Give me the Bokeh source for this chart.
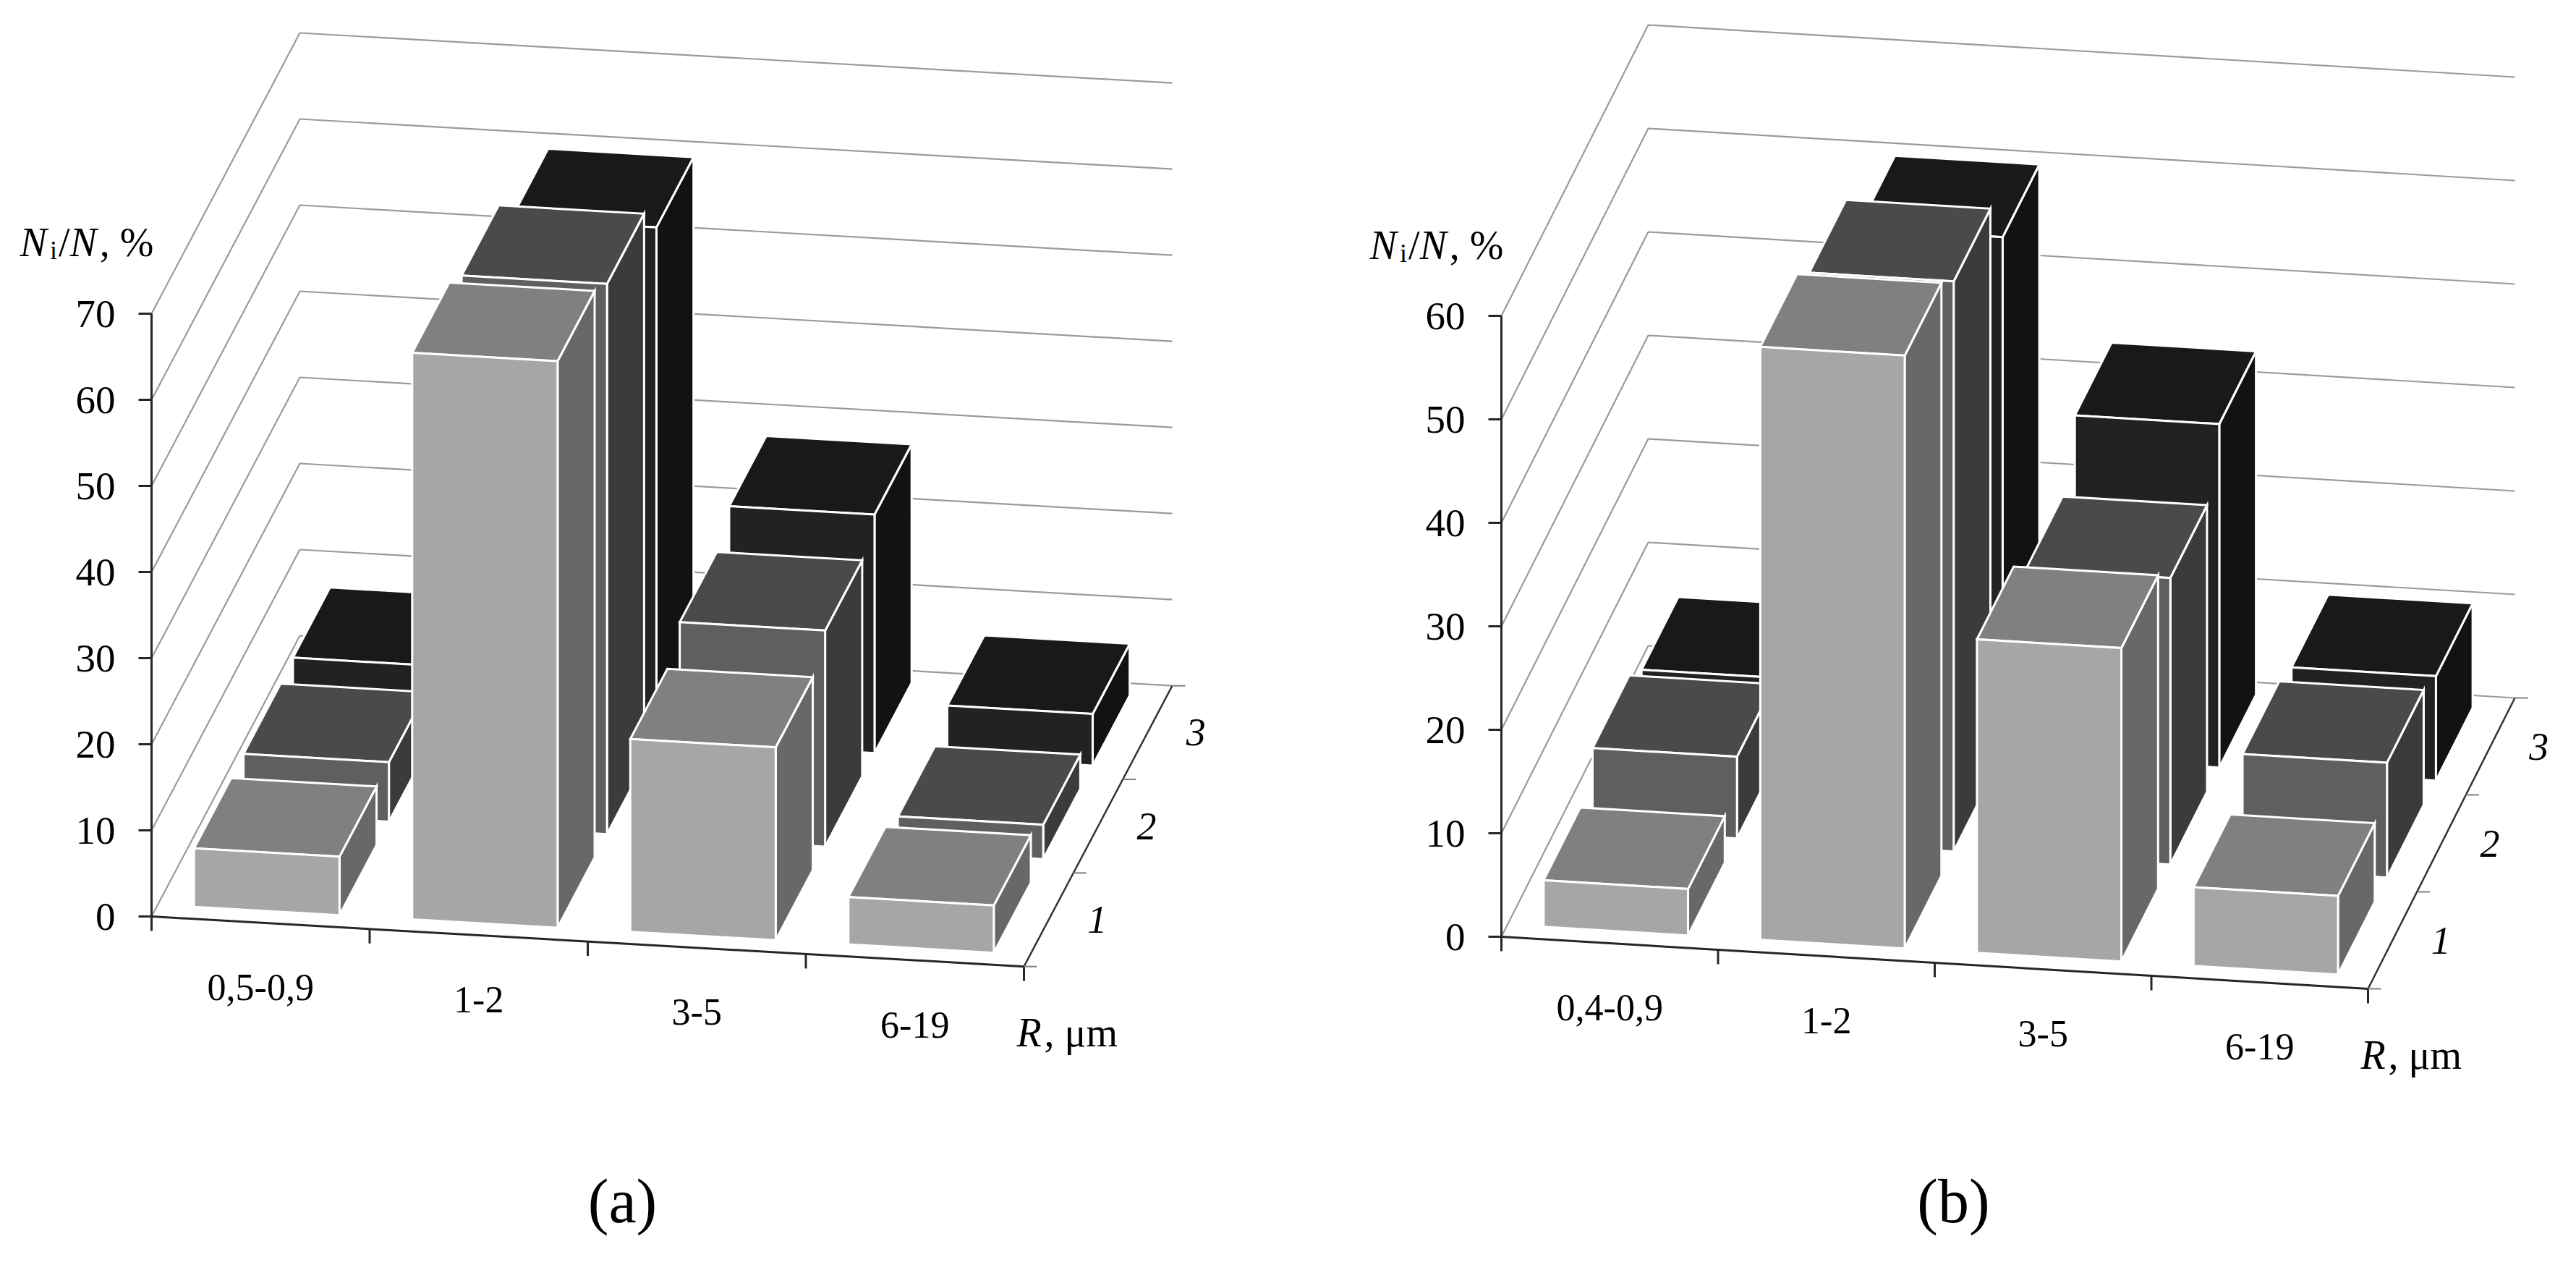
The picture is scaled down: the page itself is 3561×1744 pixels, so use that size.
from bokeh.plotting import figure
from bokeh.models import ColumnDataSource, Range1d, FixedTicker
from bokeh.layouts import row
from bokeh.embed import file_html
from bokeh.resources import INLINE
from bokeh.core.properties import value

# ---------------- data ----------------
categories_a = ["0,5-0,9", "1-2", "3-5", "6-19"]
categories_b = ["0,4-0,9", "1-2", "3-5", "6-19"]
series_names = ["1", "2", "3"]

a_series1 = [6.8, 65.8, 22.4, 5.5]
a_series2 = [6.9, 63.9, 25.1, 4.0]
a_series3 = [7.2, 59.6, 27.7, 6.0]

b_series1 = [4.5, 57.3, 30.3, 7.6]
b_series2 = [7.9, 55.1, 27.7, 11.1]
b_series3 = [6.1, 50.0, 33.2, 10.1]

a_ticks = [0, 10, 20, 30, 40, 50, 60, 70]
b_ticks = [0, 10, 20, 30, 40, 50, 60]

y_title_parts = ["N", "i", "/", "N", ", %"]
x_title_parts = ["R", ", \u03bcm"]
captions = ["(a)", "(b)"]

# ---------------- styles ----------------
FACE_COLORS = [  # (front, right side, top) per series
    ("#a6a6a6", "#686868", "#808080"),
    ("#5f5f5f", "#3b3b3b", "#4a4a4a"),
    ("#222222", "#121212", "#191919"),
]
SERIF = "Liberation Serif"
PAGE_H = 1728
TOP = 8

panels = [
    dict(fig_left=8, fig_width=1772, axis_x=217, base_y=1274, scale=11.9,
         cat_dx=301.5, cat_dy=17.3, dep_dx=205, dep_dy=-388,
         cats=categories_a, series=[a_series1, a_series2, a_series3],
         ticks=a_ticks, caption=captions[0], cap_x=868, cap_y=1667, title_base=342),
    dict(fig_left=1780, fig_width=1773, axis_x=2083, base_y=1302, scale=14.3,
         cat_dx=299.5, cat_dy=18.0, dep_dx=203, dep_dy=-402,
         cats=categories_b, series=[b_series1, b_series2, b_series3],
         ticks=b_ticks, caption=captions[1], cap_x=2708, cap_y=1667, title_base=346),
]


def make_panel(cfg):
    s = cfg["scale"]
    ncat = len(cfg["cats"])
    nser = len(cfg["series"])

    def P(c, d, v):
        x = cfg["axis_x"] + c * cfg["cat_dx"] + d / nser * cfg["dep_dx"]
        y = v - (c * cfg["cat_dy"] + d / nser * cfg["dep_dy"]) / s
        return x, y

    def page_y(py):
        return (cfg["base_y"] - py) / s

    p = figure(width=cfg["fig_width"], height=PAGE_H,
               x_range=Range1d(cfg["fig_left"], cfg["fig_left"] + cfg["fig_width"]),
               y_range=Range1d(page_y(TOP + PAGE_H), page_y(TOP)),
               x_axis_location=None, y_axis_location="left",
               output_backend="svg", toolbar_location=None,
               min_border_left=0, min_border_right=0,
               min_border_top=0, min_border_bottom=0)
    p.outline_line_color = None
    p.xgrid.visible = False
    p.ygrid.visible = False
    p.background_fill_color = "white"
    p.border_fill_color = "white"

    ticks = cfg["ticks"]
    ax = p.yaxis[0]
    ax.fixed_location = cfg["axis_x"]
    ax.ticker = FixedTicker(ticks=ticks)
    ax.bounds = (0, ticks[-1])
    ax.axis_line_color = "#262626"
    ax.axis_line_width = 3
    ax.major_tick_line_color = "#262626"
    ax.major_tick_line_width = 3
    ax.major_tick_out = 18
    ax.major_tick_in = 0
    ax.minor_tick_out = 0
    ax.minor_tick_in = 0
    ax.major_label_standoff = 32
    ax.major_label_text_font = SERIF
    ax.major_label_text_font_size = "55px"
    ax.major_label_text_color = "black"

    # walls: left side wall and back wall grid lines
    wx, wy = [], []
    for t in ticks:
        pts = [P(0, 0, t), P(0, nser, t), P(ncat, nser, t)]
        wx.append([q[0] for q in pts])
        wy.append([q[1] for q in pts])
    p.multi_line(wx, wy, line_color="#9a9a9a", line_width=2.2)

    # front (category) axis
    f0, f1 = P(0, 0, 0), P(ncat, 0, 0)
    p.line([f0[0], f1[0]], [f0[1], f1[1]], line_color="#262626", line_width=3)
    tx, ty = [], []
    for c in range(ncat + 1):
        q = P(c, 0, 0)
        tx.append([q[0], q[0]])
        ty.append([q[1], q[1] - 20 / s])
    p.multi_line(tx, ty, line_color="#262626", line_width=3)

    # depth (series) axis
    d0, d1 = P(ncat, 0, 0), P(ncat, nser, 0)
    p.line([d0[0], d1[0]], [d0[1], d1[1]], line_color="#333333", line_width=2.5)
    dx, dy = [], []
    for k in range(nser + 1):
        q = P(ncat, k, 0)
        dx.append([q[0], q[0] + 18])
        dy.append([q[1], q[1]])
    p.multi_line(dx, dy, line_color="#808080", line_width=2)

    # bars (painter's order: back rows first, left to right)
    xs, ys, fills = [], [], []
    for k in reversed(range(nser)):
        vals = cfg["series"][k]
        front_c, side_c, top_c = FACE_COLORS[k]
        for c in range(ncat):
            v = vals[c]
            c0, c1 = c + 1 / 6, c + 5 / 6
            e0, e1 = k + 0.125, k + 0.875
            faces = [
                ([(c1, e0, 0), (c1, e1, 0), (c1, e1, v), (c1, e0, v)], side_c),
                ([(c0, e0, v), (c1, e0, v), (c1, e1, v), (c0, e1, v)], top_c),
                ([(c0, e0, 0), (c1, e0, 0), (c1, e0, v), (c0, e0, v)], front_c),
            ]
            for corners, col in faces:
                pts = [P(*q) for q in corners]
                xs.append([q[0] for q in pts])
                ys.append([q[1] for q in pts])
                fills.append(col)
    src = ColumnDataSource(dict(xs=xs, ys=ys, fill=fills))
    p.patches("xs", "ys", source=src, fill_color="fill", line_color="white",
              line_width=3, line_join="miter")

    # category labels
    lx, ly = [], []
    for c in range(ncat):
        q = P(c + 0.5, 0, 0)
        lx.append(q[0])
        ly.append(q[1] - 89 / s)
    p.text(lx, ly, text=cfg["cats"], text_font=value(SERIF), text_font_size="52px",
           text_align="center", text_baseline="middle", text_color="black")

    # series labels (depth axis)
    sx, sy = [], []
    for k in range(nser):
        q = P(ncat, k + 0.5, 0)
        sx.append(q[0] + 67)
        sy.append(q[1])
    p.text(sx, sy, text=series_names, text_font=value(SERIF), text_font_size="54px",
           text_font_style="italic", text_align="center", text_baseline="middle",
           text_color="black")

    # x title  "R, um"
    fr = P(ncat, 0, 0)
    rx, ry = fr[0] - 10, fr[1] - 91 / s
    p.text([rx], [ry], text=[x_title_parts[0]], text_font=value(SERIF),
           text_font_size="56px", text_font_style="italic", text_align="left",
           text_baseline="middle", text_color="black")
    p.text([rx + 38], [ry], text=[x_title_parts[1]], text_font=value(SERIF),
           text_font_size="56px", text_align="left", text_baseline="middle",
           text_color="black")

    # y title  "N_i/N, %"
    fs, fsub = 56, 36
    widths = [0.667 * fs + 4, 0.278 * fsub + 2, 0.278 * fs, 0.667 * fs + 4, 1.333 * fs]
    styles = ["italic", "normal", "normal", "italic", "normal"]
    sizes = [fs, fsub, fs, fs, fs]
    drops = [0, 11, 0, 0, 0]
    xcur = cfg["axis_x"] + 3 - sum(widths)
    base = cfg["title_base"]
    for txt, w, st, sz, dr in zip(y_title_parts, widths, styles, sizes, drops):
        p.text([xcur], [page_y(base + dr)], text=[txt], text_font=value(SERIF),
               text_font_size=f"{sz}px", text_font_style=st, text_align="left",
               text_baseline="alphabetic", text_color="black")
        xcur += w

    # caption
    p.text([cfg["cap_x"]], [page_y(cfg["cap_y"])], text=[cfg["caption"]],
           text_font=value(SERIF), text_font_size="86px", text_align="center",
           text_baseline="middle", text_color="black")
    return p


figs = [make_panel(c) for c in panels]
layout = row(*figs, spacing=0)
open("out.html", "w").write(file_html(layout, INLINE))
